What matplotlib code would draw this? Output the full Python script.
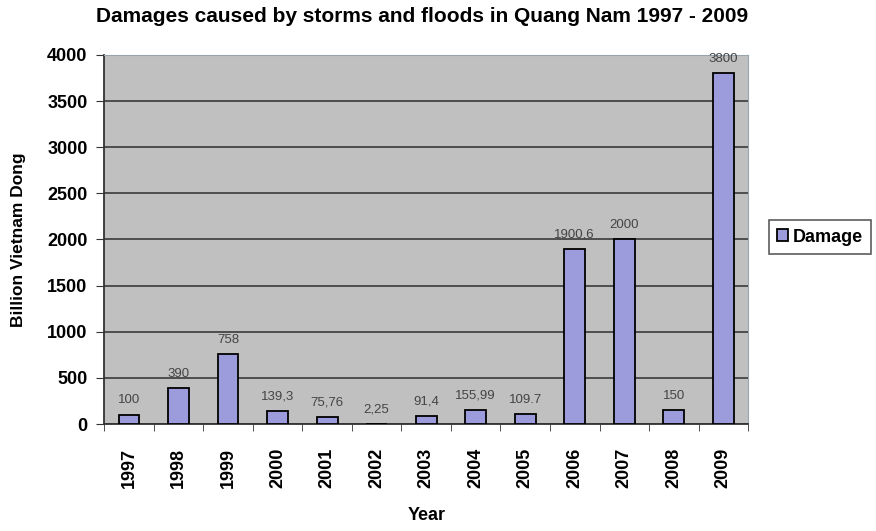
import matplotlib.pyplot as plt
from matplotlib.ticker import FixedLocator
import numpy as np

plt.rcParams['font.family'] = ['Liberation Sans', 'DejaVu Sans']

# data
years = ['1997', '1998', '1999', '2000', '2001', '2002', '2003',
         '2004', '2005', '2006', '2007', '2008', '2009']
damage = [100, 390, 758, 139.3, 75.76, 2.25, 91.4, 155.99, 109.7, 1900.6, 2000, 150, 3800]
value_labels = ['100', '390', '758', '139,3', '75,76', '2,25', '91,4',
                '155,99', '109.7', '1900,6', '2000', '150', '3800']

fig = plt.figure(figsize=(8.76, 5.31), dpi=100)
ax = fig.add_axes([0.119, 0.2015, 0.735, 0.695])
ax.set_facecolor('#c0c0c0')

x = np.arange(len(years))
ax.bar(x, damage, width=0.42, color='#9c9cdc', edgecolor='black',
       linewidth=1.3, label='Damage', zorder=3)

for xi, v, s in zip(x, damage, value_labels):
    ax.annotate(s, (xi, v), xytext=(0, 6), textcoords='offset points',
                ha='center', va='bottom', fontsize=9.5, color='#444444')

ax.set_xlim(-0.5, len(years) - 0.5)
ax.set_ylim(0, 4000)
ax.set_yticks(np.arange(0, 4001, 500))
ax.set_xticks(x)
ax.set_xticklabels(years, rotation=90, fontweight='bold', fontsize=13)
ax.xaxis.set_minor_locator(FixedLocator(np.arange(-0.5, len(years), 1)))
for t in ax.get_yticklabels():
    t.set_fontweight('bold')
    t.set_fontsize(13)

ax.grid(axis='y', color='#3a3a3a', linewidth=1.2, zorder=1)
ax.tick_params(axis='x', which='major', length=0, pad=17)
ax.tick_params(axis='x', which='minor', length=5, color='#333333')
ax.tick_params(axis='y', length=6, pad=6, color='#333333')
for side in ['top', 'right']:
    ax.spines[side].set_color('#9aa4ad')
ax.spines['left'].set_color('#333333')
ax.spines['bottom'].set_color('#333333')
ax.spines['left'].set_linewidth(1.3)
ax.spines['bottom'].set_linewidth(1.3)

fig.text(422 / 876, 1 - 17 / 531,
         'Damages caused by storms and floods in Quang Nam 1997 - 2009',
         ha='center', va='center', fontweight='bold', fontsize=15)
ax.set_ylabel('Billion Vietnam Dong', fontweight='bold', fontsize=12.5)
ax.yaxis.set_label_coords(-0.122, 0.5)
ax.set_xlabel('Year', fontweight='bold', fontsize=13)
ax.xaxis.set_label_coords(0.5, -0.225)

handles, labels = ax.get_legend_handles_labels()
leg = fig.legend(handles, labels, loc='center', bbox_to_anchor=(820 / 876, 1 - 237 / 531),
                 fontsize=13, frameon=True, fancybox=False, edgecolor='#333333',
                 handlelength=0.6, handleheight=0.6, handletextpad=0.3,
                 borderpad=0.45, borderaxespad=0)
leg.get_frame().set_linewidth(1.2)
for t in leg.get_texts():
    t.set_fontweight('bold')

fig.savefig('out.png', dpi=100)
